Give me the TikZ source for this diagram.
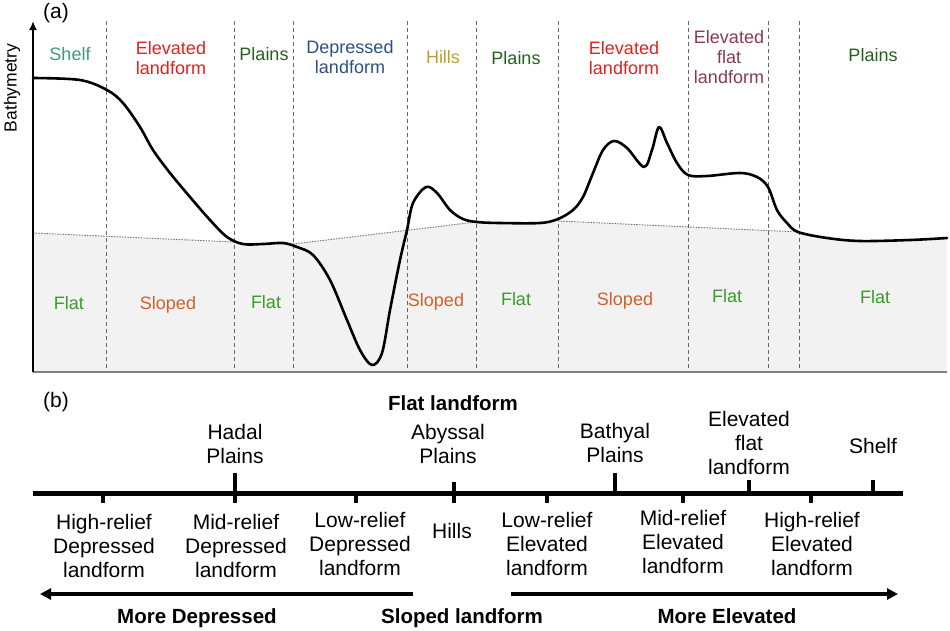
\documentclass[tikz,border=0pt]{standalone}
\usepackage{fontspec}
\setmainfont{Liberation Sans}
\usetikzlibrary{arrows.meta}
\definecolor{shelfc}{HTML}{45977A}
\definecolor{elevc}{HTML}{E0201F}
\definecolor{plainc}{HTML}{22601C}
\definecolor{deprc}{HTML}{2F4F85}
\definecolor{hillc}{HTML}{BBA02E}
\definecolor{eflatc}{HTML}{8A3A4E}
\definecolor{flatc}{HTML}{3A9A2A}
\definecolor{slopc}{HTML}{D2602A}
\definecolor{fillg}{HTML}{F2F2F2}
\begin{document}
\begin{tikzpicture}[x=1pt,y=-1pt,
  lab/.style={font=\fontsize{18}{20}\selectfont, inner sep=0pt, align=center, anchor=base},
  blab/.style={font=\fontsize{21}{24}\selectfont, inner sep=0pt, align=center, anchor=base},
  bbold/.style={font=\fontsize{20.5}{24}\selectfont\bfseries, inner sep=0pt, anchor=base},
  divider/.style={draw=black!60, line width=1pt, dash pattern=on 4pt off 3pt},
  refline/.style={draw=black!55, line width=0.9pt, dash pattern=on 1.5pt off 1.2pt},
  profile/.style={draw=black, line width=2.6pt, line join=round, line cap=round},
  scale axis/.style={draw=black, line width=5pt},
  tickmark/.style={draw=black, line width=4.5pt},
  dirarrow/.style={draw=black, line width=3.5pt, -{Triangle[length=11pt,width=11pt]}}
]
\useasboundingbox (0,0) rectangle (950,630);

% ---------- panel (a) ----------
\fill[fillg] (33,372) -- (33,233) -- (234,242) -- (243,244) -- (263,244) -- (283,243) -- (293,244)
  -- (476,222) -- (500,223) -- (540,223) -- (558,221) -- (799,232) -- (827,238) -- (860,241)
  -- (910,240) -- (947,238) -- (947,372) -- cycle;

\draw[refline] (33,233) -- (234,242);
\draw[refline] (293,244) -- (476,222);
\draw[refline] (558,221) -- (799,232);

\foreach \xx in {106,234,293,407,476,558,688,768,799}
  \draw[divider] (\xx,21) -- (\xx,372);

\coordinate (origin) at (33,372);
\coordinate (ytop) at (33,21);
\coordinate (xend) at (947,372);
\draw[draw=black!50, line width=2pt] (origin) -- (xend);
\draw[line width=2pt, -{Latex[length=9pt,width=8pt]}] (origin) -- (ytop);

\draw[profile] plot[smooth, tension=0.55] coordinates {
 (33,78) (80,80) (107,90) (123,103) (140,127) (153,150) (170,173) (190,197) (210,220)
 (227,237) (243,244) (263,244) (283,243) (297,247) (313,255) (330,280) (347,320) (360,350)
 (372,365) (382,353) (390,310) (400,260) (407,230) (413,203) (426,187) (437,193) (450,210)
 (463,219) (477,222) (500,223) (540,223) (558,219) (573,210) (583,197) (593,173) (603,150)
 (614,141) (627,148) (644,167) (652,150) (659,127) (667,143) (677,163) (688,175) (707,176)
 (740,173) (757,177) (768,187) (777,210) (787,223) (798,232) (827,238) (860,241) (910,240)
 (947,238)};

\node[lab, font=\fontsize{21}{24}\selectfont] (pa) at (56,18) {(a)};
\node[font=\fontsize{17.5}{20}\selectfont, rotate=90, inner sep=0pt] (ylab) at (12,88) {Bathymetry};

\node[lab, text=shelfc] (t1) at (70,60.5) {Shelf};
\node[lab, text=elevc] (t2) at (171,74) {Elevated\\landform};
\node[lab, text=plainc] (t3) at (264,60.5) {Plains};
\node[lab, text=deprc] (t4) at (350,73.5) {Depressed\\landform};
\node[lab, text=hillc] (t5) at (443,63) {Hills};
\node[lab, text=plainc] (t6) at (516,64) {Plains};
\node[lab, text=elevc] (t7) at (624,74) {Elevated\\landform};
\node[lab, text=eflatc] (t8) at (729,83) {Elevated\\flat\\landform};
\node[lab, text=plainc] (t9) at (873,61.7) {Plains};

\node[lab, text=flatc] (f1) at (69,309) {Flat};
\node[lab, text=slopc] (s1) at (168,309) {Sloped};
\node[lab, text=flatc] (f2) at (266,308) {Flat};
\node[lab, text=slopc] (s2) at (436,306) {Sloped};
\node[lab, text=flatc] (f3) at (516,305) {Flat};
\node[lab, text=slopc] (s3) at (625,305) {Sloped};
\node[lab, text=flatc] (f4) at (727,302) {Flat};
\node[lab, text=flatc] (f5) at (875,303) {Flat};

% ---------- panel (b) ----------
\node[blab] (pb) at (56,407) {(b)};
\coordinate (sl) at (33,493);
\coordinate (sr) at (903,493);
\draw[scale axis] (sl) -- (sr);

\draw[tickmark] (103,493) -- (103,503);
\draw[tickmark] (235,473) -- (235,503);
\draw[tickmark] (356,493) -- (356,503);
\draw[tickmark] (454,482) -- (454,503);
\draw[tickmark] (547,493) -- (547,503);
\draw[tickmark] (615,473) -- (615,493);
\draw[tickmark] (683,493) -- (683,503);
\draw[tickmark] (749,480) -- (749,493);
\draw[tickmark] (811,493) -- (811,503);
\draw[tickmark] (873,480) -- (873,493);

\node[bbold] (flat) at (453,410) {Flat landform};
\node[blab] (hadal) at (235,463) {Hadal\\Plains};
\node[blab] (abyss) at (448,463) {Abyssal\\Plains};
\node[blab] (bathy) at (615,462) {Bathyal\\Plains};
\node[blab] (eflat) at (749,474) {Elevated\\flat\\landform};
\node[blab] (shelf) at (873,453) {Shelf};

\node[blab] (hrd) at (104,577) {High-relief\\Depressed\\landform};
\node[blab] (mrd) at (236,577) {Mid-relief\\Depressed\\landform};
\node[blab] (lrd) at (360,575) {Low-relief\\Depressed\\landform};
\node[blab] (hills) at (452,538) {Hills};
\node[blab] (lre) at (547,575) {Low-relief\\Elevated\\landform};
\node[blab] (mre) at (683,573) {Mid-relief\\Elevated\\landform};
\node[blab] (hre) at (812,575) {High-relief\\Elevated\\landform};

\coordinate (la) at (413,594);
\coordinate (lb) at (40,594);
\coordinate (ra) at (511,594);
\coordinate (rb) at (898,594);
\draw[dirarrow] (la) -- (lb);
\draw[dirarrow] (ra) -- (rb);

\node[bbold] (mdep) at (197,623) {More Depressed};
\node[bbold] (slop) at (462,623) {Sloped landform};
\node[bbold] (melev) at (727,623) {More Elevated};
\end{tikzpicture}
\end{document}
